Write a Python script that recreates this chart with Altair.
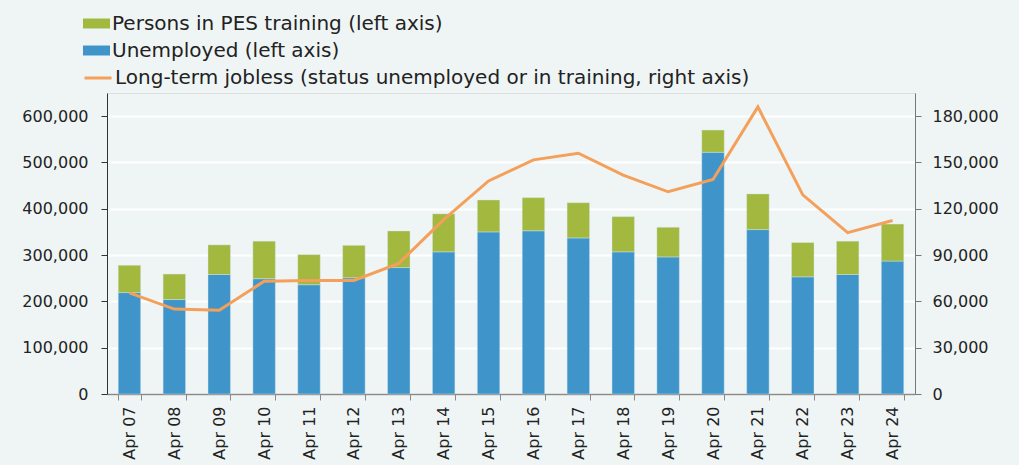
import altair as alt
import pandas as pd

years = ["Apr 07", "Apr 08", "Apr 09", "Apr 10", "Apr 11", "Apr 12", "Apr 13", "Apr 14", "Apr 15",
         "Apr 16", "Apr 17", "Apr 18", "Apr 19", "Apr 20", "Apr 21", "Apr 22", "Apr 23", "Apr 24"]
unemployed = [219000, 204000, 258000, 249000, 236000, 251000, 273000, 307000, 350000,
              352500, 337000, 307000, 296000, 522000, 355000, 253000, 258000, 287000]
training = [59000, 55000, 64000, 81000, 65000, 70000, 79000, 82000, 69000,
            71500, 76000, 76000, 64000, 48000, 77000, 74000, 72000, 80000]
longterm = [65500, 55000, 54200, 73000, 73600, 73600, 84600, 113000, 138000,
            151700, 156000, 141800, 131000, 139000, 186000, 129000, 104500, 112400]

lab_tr = "Persons in PES training (left axis)"
lab_un = "Unemployed (left axis)"
lab_lt = "Long-term jobless (status unemployed or in training, right axis)"

rows = []
for i, yr in enumerate(years):
    rows.append({"year": yr, "series": lab_un, "value": unemployed[i], "ord": 1})
    rows.append({"year": yr, "series": lab_tr, "value": training[i], "ord": 2})
bars_df = pd.DataFrame(rows)
line_df = pd.DataFrame({"year": years, "series": lab_lt, "value": longterm})

FONT = "DejaVu Sans"
LEG_FS = 20

x = alt.X("year:N", sort=years, title=None,
          scale=alt.Scale(paddingInner=0.5, paddingOuter=0.25),
          axis=alt.Axis(labelAngle=270, tickBand="extent", domainColor="#8a8a8a", tickColor="#8a8a8a",
                        domainWidth=1.5, tickSize=6, labelFontSize=16, labelPadding=6, grid=False,
                        labelColor="#222"))

bars = alt.Chart(bars_df).mark_bar(stroke="#d6e8f0", strokeWidth=0.6, strokeOpacity=0.7).encode(
    x=x,
    y=alt.Y("value:Q", stack="zero", title=None,
            scale=alt.Scale(domain=[0, 650000], nice=False),
            axis=alt.Axis(values=[0, 100000, 200000, 300000, 400000, 500000, 600000], format=",.0f",
                          gridColor="white", gridWidth=2, domainColor="#333", tickColor="#333",
                          tickSize=6, labelFontSize=16, labelColor="#222", labelPadding=13)),
    color=alt.Color("series:N",
                    scale=alt.Scale(domain=[lab_tr, lab_un], range=["#A2B83F", "#3F95CA"]),
                    legend=alt.Legend(orient="none", legendX=-24, legendY=-83, title=None,
                                      symbolType="M-1,-0.37H1V0.37H-1Z", symbolSize=729,
                                      symbolStrokeWidth=0, labelFontSize=LEG_FS, labelColor="#222",
                                      labelOffset=2, rowPadding=3, labelLimit=900)),
    order=alt.Order("ord:Q"),
)

line = alt.Chart(line_df).mark_line(strokeWidth=3).encode(
    x=x,
    y=alt.Y("value:Q", title=None,
            scale=alt.Scale(domain=[0, 195000], nice=False),
            axis=alt.Axis(orient="right", values=[0, 30000, 60000, 90000, 120000, 150000, 180000],
                          format=",.0f", grid=False, domainColor="#777", tickColor="#777", tickSize=6,
                          labelFontSize=16, labelColor="#222", labelPadding=11)),
    stroke=alt.Stroke("series:N", scale=alt.Scale(domain=[lab_lt], range=["#F4A05A"]),
                      legend=alt.Legend(orient="none", legendX=-24, legendY=-30, title=None,
                                        symbolType="stroke", symbolSize=729, symbolStrokeWidth=3,
                                        labelFontSize=LEG_FS, labelColor="#222", labelOffset=2,
                                        labelLimit=900)),
)

chart = alt.layer(bars, line).resolve_scale(y="independent").properties(
    width=808, height=301,
    autosize=alt.AutoSizeParams(type="none"),
    padding={"left": 107, "top": 93, "right": 104, "bottom": 71},
    background="#EFF5F5",
).configure_view(stroke=None).configure(font=FONT)

chart.save("out.html", embed_options={"renderer": "svg", "actions": False})
